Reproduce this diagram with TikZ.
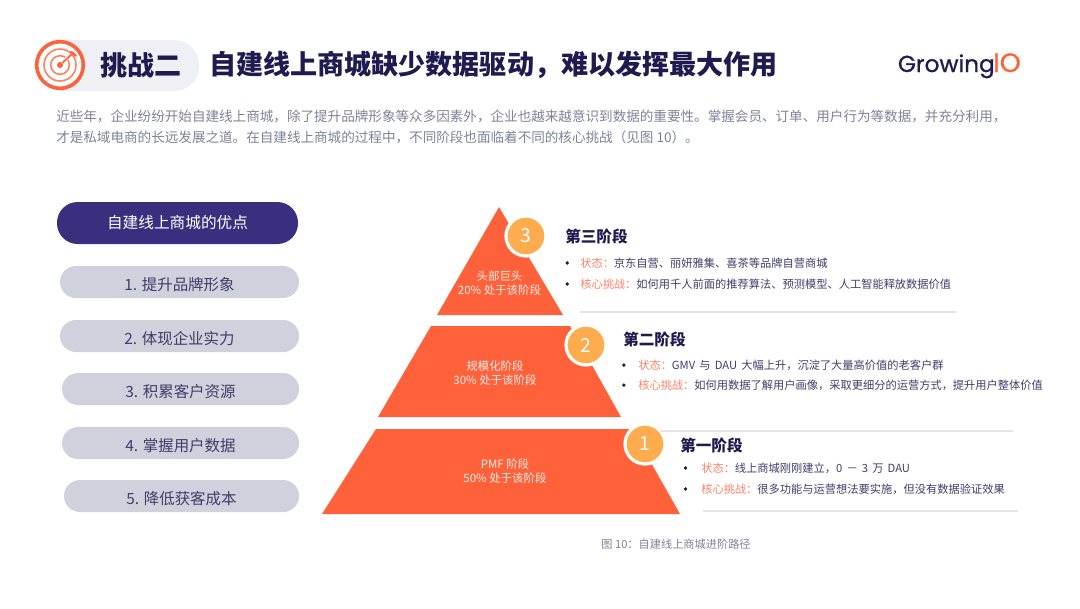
\documentclass[tikz,border=0pt]{standalone}
\usepackage{fontspec}
\setmainfont{Noto Sans CJK SC}
\newfontfamily\logofont[FakeBold=0.9]{Poppins}
\usepackage{xcolor}
\usetikzlibrary{positioning, calc}
\definecolor{inkblue}{RGB}{31,26,79}
\definecolor{bodygray}{RGB}{125,130,152}
\definecolor{hotorange}{RGB}{255,97,58}
\definecolor{sunorange}{RGB}{255,172,78}
\definecolor{deeppurple}{RGB}{58,46,126}
\definecolor{pillgray}{RGB}{207,209,220}
\definecolor{palegray}{RGB}{239,240,245}
\definecolor{rulegray}{RGB}{228,229,232}
\definecolor{softorange}{RGB}{255,128,100}
\newcommand{\rowgap}{\hspace{3.1pt}}

\begin{document}
\begin{tikzpicture}[
  x=0.75pt, y=-0.75pt,
  headpill/.style  = {rectangle, rounded corners=15.5pt, fill=deeppurple, minimum width=180.75pt,
                  minimum height=31.5pt, inner sep=0pt, align=center, text=white,
                  font=\fontsize{11.75}{13}\selectfont},
  itempill/.style  = {rectangle, rounded corners=12pt, fill=pillgray, minimum height=24pt,
                  inner sep=0pt, align=center, text=inkblue!85, text height=13.3pt, text depth=0pt,
                  font=\fontsize{11.6}{13}\selectfont},
  tagnode/.style   = {circle, fill=sunorange, draw=white, line width=2.4pt, minimum size=30pt,
                  inner sep=0pt, text=white, font=\fontsize{14.5}{16}\selectfont},
  tiernote/.style  = {align=center, text=white!90!hotorange, inner sep=0pt,
                  font=\fontsize{8.6}{10.2}\selectfont},
  stagehead/.style = {anchor=west, inner sep=0pt, text=inkblue,
                  font=\fontsize{11.7}{14}\selectfont\bfseries},
  rownote/.style   = {anchor=west, inner sep=0pt, text=inkblue!85,
                  font=\fontsize{8.43}{10}\selectfont},
  dotnode/.style   = {circle, fill=inkblue, minimum size=2.8pt, inner sep=0pt},
  rulearr/.style   = {draw=rulegray, line width=0.9pt},
]
\useasboundingbox (0,0) rectangle (1080,608);

%% Header
\fill[palegray] (60,40) -- (174,40) arc (-90:90:25.5) -- (60,91) -- cycle;
\node[circle, fill=white, draw=hotorange, line width=2.7pt, minimum size=35pt, inner sep=0pt] (badge) at (60,65) {};
\node[circle, draw=hotorange!80, line width=1.2pt, minimum size=24pt, inner sep=0pt] (ringa) at (60,65) {};
\node[circle, draw=hotorange!80, line width=1.2pt, minimum size=14pt, inner sep=0pt] (ringb) at (60,65) {};
\node[circle, fill=hotorange, minimum size=4.5pt, inner sep=0pt] (bullseye) at (60,65) {};
\coordinate (tip) at (73,53);
\draw[white, line width=2.6pt] (bullseye) -- (71,54);
\draw[hotorange, line width=1.3pt] (bullseye) -- (tip);
\draw[hotorange, line width=1.6pt] (70,52) -- (tip) -- (76,56);
\node[inner sep=0pt, anchor=west, text=inkblue, font=\fontsize{20.3}{24}\selectfont\bfseries] (tag) at (100,65) {挑战二};
\node[inner sep=0pt, anchor=west, text=inkblue, font=\fontsize{20.3}{24}\selectfont\bfseries] (title) at (209,65) {自建线上商城缺少数据驱动，难以发挥最大作用};
\node[inner sep=0pt, anchor=base east, text=hotorange, font=\logofont\fontsize{20}{24}\selectfont] (logoio) at (1021,72) {IO};
\node[inner sep=0pt, anchor=base east, text=inkblue, font=\logofont\fontsize{17.4}{24}\selectfont] (logogrow) at (995,72) {Growing};

%% Intro text
\node[inner sep=0pt, anchor=west, align=left, text=bodygray, font=\fontsize{10.18}{15.75}\selectfont] (intro) at (56,127)
  {近些年，企业纷纷开始自建线上商城，除了提升品牌形象等众多因素外，企业也越来越意识到数据的重要性。掌握会员、订单、用户行为等数据，并充分利用，\\
   才是私域电商的长远发展之道。在自建线上商城的过程中，不同阶段也面临着不同的核心挑战（见图 10）。};

%% Left column
\node[headpill] (adv) at (177.5,223) {自建线上商城的优点};
\node[itempill, minimum width=179.25pt] (one)   at (179.5,282) {1. 提升品牌形象};
\node[itempill, minimum width=179.25pt] (two)   at (179.5,336) {2. 体现企业实力};
\node[itempill, minimum width=177.75pt] (three) at (180.5,389) {3. 积累客户资源};
\node[itempill, minimum width=177.75pt] (four)  at (180.5,443) {4. 掌握用户数据};
\node[itempill, minimum width=176.25pt] (five)  at (181.5,496) {5. 降低获客成本};

%% Pyramid
\fill[hotorange] (499,207) -- (563,315) -- (437,315) -- cycle;
\fill[hotorange] (431,326) -- (570,326) -- (621,417) -- (378,417) -- cycle;
\fill[hotorange] (376,429) -- (632,429) -- (680,514) -- (322,514) -- cycle;
\node[tagnode] (tagc) at (526,236) {3};
\node[tagnode] (tagb) at (586,345) {2};
\node[tagnode] (taga) at (645,444) {1};
\node[tiernote] (tierc) at (499.5,283) {头部巨头\\20\% 处于该阶段};
\node[tiernote] (tierb) at (495,373) {规模化阶段\\30\% 处于该阶段};
\node[tiernote] (tiera) at (505,471) {PMF 阶段\\50\% 处于该阶段};

%% Third stage
\node[stagehead] (headc) at (565,236) {第三阶段};
\node[rownote] (statec) at (580,263) {{\color{softorange}状态：}京东自营、丽妍雅集、喜茶等品牌自营商城};
\node[rownote] (corec)  at (580,284) {{\color{softorange}核心挑战：}如何用千人前面的推荐算法、预测模型、人工智能释放数据价值};
\node[dotnode, left=8pt of statec] (dotc) {};
\node[dotnode, left=8pt of corec] (dotd) {};
\draw[rulearr] (580,312) -- (956,312);

%% Second stage
\node[stagehead] (headb) at (623,339) {第二阶段};
\node[rownote] (stateb) at (638,365) {{\color{softorange}状态：}GMV\rowgap 与\rowgap DAU\rowgap 大幅上升，沉淀了大量高价值的老客户群};
\node[rownote] (coreb)  at (638,385) {{\color{softorange}核心挑战：}如何用数据了解用户画像，采取更细分的运营方式，提升用户整体价值};
\node[dotnode, left=9pt of stateb] (dotb) {};
\node[dotnode, left=9pt of coreb] (dote) {};
\draw[rulearr] (660,431) -- (1013,431);

%% First stage
\node[stagehead] (heada) at (680,445) {第一阶段};
\node[rownote] (statea) at (701,468) {{\color{softorange}状态：}线上商城刚刚建立，0\rowgap －\rowgap 3\rowgap 万\rowgap DAU};
\node[rownote] (corea)  at (701,489) {{\color{softorange}核心挑战：}很多功能与运营想法要实施，但没有数据验证效果};
\node[dotnode, left=10pt of statea] (dota) {};
\node[dotnode, left=10pt of corea] (dotf) {};
\draw[rulearr] (703,511) -- (1018,511);

%% Caption
\node[inner sep=0pt, text=bodygray, font=\fontsize{8.4}{10}\selectfont] (caption) at (676,544) {图 10：自建线上商城进阶路径};

\end{tikzpicture}
\end{document}
